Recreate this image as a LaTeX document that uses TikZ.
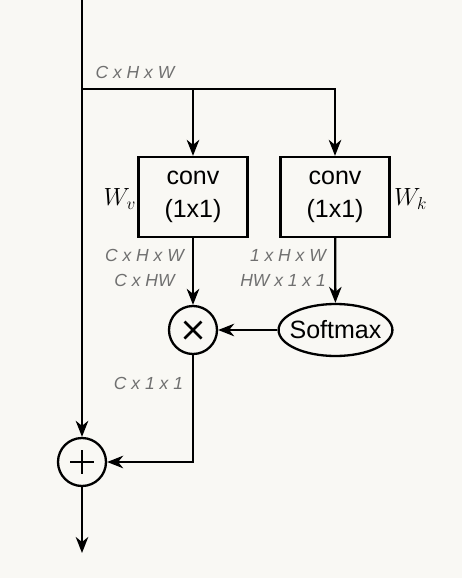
\documentclass[tikz,border=0pt]{standalone}
\usepackage{fontspec}
\setmainfont{Liberation Sans}
\usetikzlibrary{arrows.meta,shapes.geometric}
\definecolor{bg}{HTML}{F9F8F4}
\definecolor{lbl}{HTML}{707070}
\begin{document}
\begin{tikzpicture}[x=1pt,y=-1pt,
  line width=2.3pt,
  arr/.style={-{Stealth[length=16pt,width=12.5pt,inset=5pt]}},
  convbox/.style={draw,minimum width=109pt,minimum height=80pt,inner sep=0pt,align=center,
    font=\fontsize{25}{33}\selectfont},
  opcirc/.style={draw,circle,minimum size=48pt,inner sep=0pt},
  dimlbl/.style={text=lbl,font=\fontsize{17.5}{20}\selectfont\itshape,inner sep=0pt},
  wlbl/.style={font=\fontsize{24}{26}\selectfont,inner sep=0pt}]
\fill[bg] (0,0) rectangle (462,578);
\useasboundingbox (0,0) rectangle (462,578);
\coordinate (top) at (82,0);
\coordinate (br) at (82,89);
\coordinate (out) at (82,553);
\node[convbox] (convv) at (193,197) {conv\\(1x1)};
\node[convbox] (convk) at (335,197) {conv\\(1x1)};
\node[opcirc] (mul) at (193,330) {};
\node[draw,ellipse,minimum height=52pt,inner xsep=-5.6pt,inner ysep=0pt,
  font=\fontsize{25}{30}\selectfont] (soft) at (335.5,330) {Softmax};
\node[opcirc] (plus) at (82,462) {};
% symbols
\draw[line width=2.6pt] ([shift={(-8.5,-8.5)}]mul.center) -- ([shift={(8.5,8.5)}]mul.center)
  ([shift={(-8.5,8.5)}]mul.center) -- ([shift={(8.5,-8.5)}]mul.center);
\draw[line width=2.6pt] ([shift={(-12,0)}]plus.center) -- ([shift={(12,0)}]plus.center)
  ([shift={(0,-12)}]plus.center) -- ([shift={(0,12)}]plus.center);
% labels
\node[dimlbl] (l1) at (135,72) {C x H x W};
\node[dimlbl,anchor=east] (l2) at (185,255) {C x H x W};
\node[dimlbl] (l3) at (144.5,280) {C x HW};
\node[dimlbl,anchor=east] (l4) at (327,255) {1 x H x W};
\node[dimlbl,anchor=east] (l5) at (327,280) {HW x 1 x 1};
\node[dimlbl] (l6) at (148.5,383) {C x 1 x 1};
\node[wlbl,anchor=east] (wv) at (137,199) {$W_v$};
\node[wlbl,anchor=west] (wk) at (393,199) {$W_k$};
% connectors
\draw[arr] (top) -- (plus);
\draw[arr] (br) -| (convk.north);
\draw[arr] (br -| convv.north) -- (convv.north);
\draw[arr] (convv) -- (mul);
\draw[arr] (convk) -- (soft);
\draw[arr] (soft) -- (mul);
\draw[arr] (mul) |- (plus);
\draw[arr] (plus) -- (out);
\end{tikzpicture}
\end{document}
